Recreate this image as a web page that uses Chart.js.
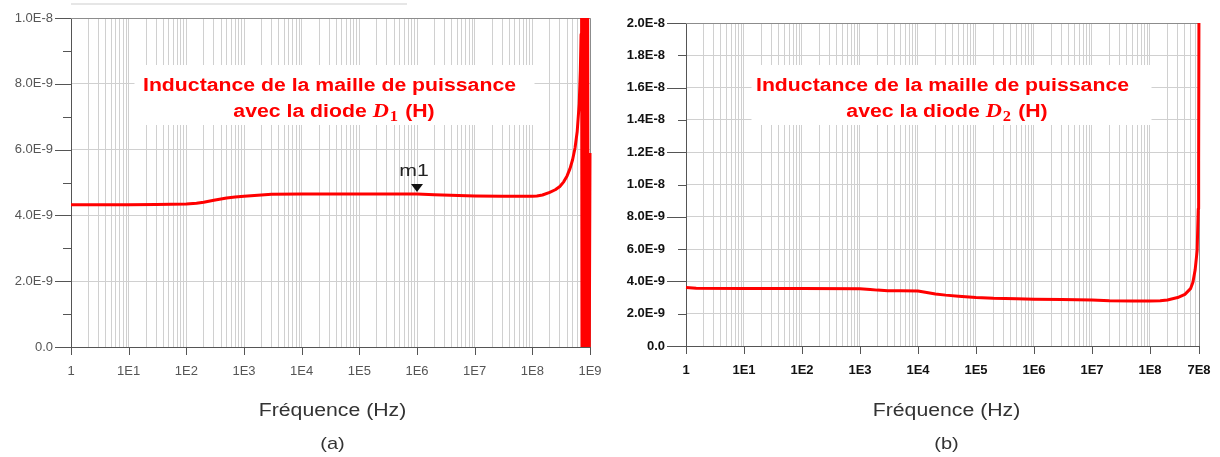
<!DOCTYPE html>
<html>
<head>
<meta charset="utf-8">
<script src="https://cdn.jsdelivr.net/npm/chart.js@4.4.1/dist/chart.umd.min.js"></script>
<style>
  body { margin: 0; background: #fff; }
  #wrap { position: relative; width: 1220px; height: 457px; overflow: hidden; }
  canvas { position: absolute; top: 0; }
  #chart-a { left: 0; }
  #chart-b { left: 610px; }
  .trait { position: absolute; left: 71px; top: 3px; width: 336px; height: 2px; background: #e6e6e6; }
</style>
</head>
<body>
<div id="wrap">
  <div class="trait"></div>
  <canvas id="chart-a" width="610" height="457"></canvas>
  <canvas id="chart-b" width="610" height="457"></canvas>
</div>
<script>
// (a) inductance avec la diode D1 : fréquence (Hz) / inductance (H)
const freqA = [1, 10, 30, 100, 150, 200, 300, 500, 700, 1e3, 2e3, 3e3, 1e4, 1e5, 1e6, 2e6,
  1e7, 3e7, 1e8, 1.2e8, 1.5e8, 2e8, 2.5e8, 3e8, 3.5e8, 4e8, 4.5e8, 5e8, 5.5e8, 6e8, 6.5e8, 6.8e8, 7e8, 7.15e8,
  7.3e8, 7.5e8, 7.7e8, 7.9e8, 8.1e8, 8.3e8, 8.5e8, 8.7e8, 8.9e8, 9.1e8, 9.3e8, 9.7e8, 1e9];
const inductA = [4.32e-9, 4.32e-9, 4.33e-9, 4.35e-9, 4.37e-9, 4.4e-9, 4.46e-9, 4.53e-9, 4.56e-9, 4.58e-9, 4.62e-9, 4.64e-9, 4.65e-9, 4.65e-9, 4.65e-9, 4.63e-9,
  4.59e-9, 4.58e-9, 4.58e-9, 4.59e-9, 4.62e-9, 4.7e-9, 4.78e-9, 4.88e-9, 5.02e-9, 5.2e-9, 5.42e-9, 5.7e-9, 6.05e-9, 6.55e-9, 7.4e-9, 8.4e-9, 9.5e-9, 1.1e-8,
  -3e-9, 1.4e-8, -4e-9, 1.6e-8, -3e-9, 1.3e-8, -2e-9, 1.2e-8, -2e-9, 1.1e-8, -1e-9, -5e-10, 5.9e-9];

// (b) inductance avec la diode D2
const freqB = [1, 1.5, 10, 100, 1e3, 1.5e3, 2e3, 3e3, 5e3, 1e4, 1.5e4, 2e4, 3e4, 5e4, 1e5,
  2e5, 5e5, 1e6, 3e6, 1e7, 2e7, 5e7, 1e8, 1.5e8, 2e8, 3e8, 4e8, 5e8, 5.5e8, 6e8,
  6.5e8, 6.8e8, 6.9e8, 7e8];
const inductB = [3.62e-9, 3.58e-9, 3.56e-9, 3.56e-9, 3.54e-9, 3.5e-9, 3.46e-9, 3.42e-9, 3.42e-9, 3.4e-9, 3.3e-9, 3.22e-9, 3.15e-9, 3.08e-9, 3.0e-9,
  2.95e-9, 2.93e-9, 2.9e-9, 2.88e-9, 2.85e-9, 2.8e-9, 2.78e-9, 2.78e-9, 2.8e-9, 2.85e-9, 3.0e-9, 3.2e-9, 3.55e-9, 3.95e-9, 4.7e-9,
  5.9e-9, 8.5e-9, 1.15e-8, 2.2e-8];

// marqueur m1
const markerFreqA = 1e6;
const markerValA = 4.65e-9;

// graduations
const xTickValsA = [1, 1e1, 1e2, 1e3, 1e4, 1e5, 1e6, 1e7, 1e8, 1e9];
const xTickLabelsA = ['1', '1E1', '1E2', '1E3', '1E4', '1E5', '1E6', '1E7', '1E8', '1E9'];
const xTickValsB = [1, 1e1, 1e2, 1e3, 1e4, 1e5, 1e6, 1e7, 1e8, 7e8];
const xTickLabelsB = ['1', '1E1', '1E2', '1E3', '1E4', '1E5', '1E6', '1E7', '1E8', '7E8'];
const yTickValsA = [0, 1e-9, 2e-9, 3e-9, 4e-9, 5e-9, 6e-9, 7e-9, 8e-9, 9e-9, 1e-8];
const yTickLabelsA = ['0.0', '2.0E-9', '4.0E-9', '6.0E-9', '8.0E-9', '1.0E-8'];
const yTickValsB = [0, 1e-9, 2e-9, 3e-9, 4e-9, 5e-9, 6e-9, 7e-9, 8e-9, 9e-9, 1e-8,
  1.1e-8, 1.2e-8, 1.3e-8, 1.4e-8, 1.5e-8, 1.6e-8, 1.7e-8, 1.8e-8, 1.9e-8, 2e-8];
const yTickLabelsB = ['0.0', '2.0E-9', '4.0E-9', '6.0E-9', '8.0E-9', '1.0E-8',
  '1.2E-8', '1.4E-8', '1.6E-8', '1.8E-8', '2.0E-8'];

const SANS = '"Liberation Sans", Arial, sans-serif';
const SERIF = '"Liberation Serif", "Times New Roman", serif';

// lignes de grille log : 1..9 x 10^n jusqu'à max
function logGrid(max) {
  const out = [];
  for (let d = 0; d <= 9; d++) {
    for (let m = 1; m <= 9; m++) {
      const v = m * Math.pow(10, d);
      if (v <= max * 1.000001) out.push(v);
    }
  }
  return out;
}

function labelFor(v, vals, labels) {
  const i = vals.findIndex(t => Math.abs(t - v) / t < 1e-6);
  return i >= 0 ? labels[i] : '';
}

// pas de marge automatique autour des axes : la zone de tracé reste fixe
function noPad(s) {
  s.paddingLeft = 0;
  s.paddingRight = 0;
  s.paddingTop = 0;
  s.paddingBottom = 0;
}

// texte un peu étiré horizontalement, comme dans la figure
function wide(ctx, text, x, y, sx) {
  ctx.save();
  ctx.translate(x, y);
  ctx.scale(sx, 1);
  ctx.fillText(text, 0, 0);
  ctx.restore();
}

function makeDecor(cfg) {
  return {
    id: 'decor',
    beforeDatasetsDraw(chart) {
      const { ctx, chartArea: a } = chart;
      const cx = (a.left + a.right) / 2;
      ctx.save();
      ctx.strokeStyle = '#8c8c8c';
      ctx.lineWidth = 1;
      ctx.beginPath();
      ctx.moveTo(a.left, a.top + 0.5);
      ctx.lineTo(a.right + 0.5, a.top + 0.5);
      ctx.lineTo(a.right + 0.5, a.bottom);
      ctx.stroke();

      // encadré blanc du titre
      ctx.fillStyle = '#fff';
      ctx.fillRect(cx - 196 + cfg.boxShift, 65, 400, 60);

      ctx.fillStyle = '#ff0000';
      ctx.textBaseline = 'alphabetic';
      ctx.textAlign = 'center';
      ctx.font = 'bold 18px ' + SANS;
      wide(ctx, 'Inductance de la maille de puissance', cx + cfg.t1Shift, 91, 1.18);

      // deuxième ligne : "avec la diode D_n (H)"
      const sx = 1.18;
      ctx.textAlign = 'left';
      const fMain = 'bold 18px ' + SANS;
      const fD = 'italic bold 19px ' + SERIF;
      const fSub = 'bold 14px ' + SERIF;
      ctx.font = fMain;
      const w1 = ctx.measureText('avec la diode ').width;
      const w4 = ctx.measureText(' (H)').width;
      ctx.font = fD;
      const w2 = ctx.measureText('D').width;
      ctx.font = fSub;
      const w3 = ctx.measureText(cfg.sub).width + 1;
      let x = cx + cfg.t2Shift - (w1 + w2 + w3 + w4) * sx / 2;
      ctx.font = fMain; wide(ctx, 'avec la diode ', x, 117, sx); x += w1 * sx;
      ctx.font = fD; wide(ctx, 'D', x, 117, sx); x += w2 * sx + 1;
      ctx.font = fSub; wide(ctx, cfg.sub, x, 121, sx); x += w3 * sx;
      ctx.font = fMain; wide(ctx, ' (H)', x, 117, sx);
      ctx.restore();
    },
    afterDraw(chart) {
      const { ctx, chartArea: a, scales: { x, y } } = chart;
      const cx = (a.left + a.right) / 2;
      ctx.save();
      ctx.strokeStyle = '#555';
      ctx.lineWidth = 1;
      // graduations de l'axe vertical
      y.ticks.forEach((t, i) => {
        const py = Math.round(y.getPixelForValue(t.value)) + 0.5;
        const len = i % 2 === 0 ? cfg.major : cfg.minor;
        ctx.beginPath();
        ctx.moveTo(a.left - len, py);
        ctx.lineTo(a.left, py);
        ctx.stroke();
      });
      // graduations de l'axe horizontal (décades)
      cfg.xTicks.forEach(v => {
        const px = Math.round(x.getPixelForValue(v)) + 0.5;
        ctx.beginPath();
        ctx.moveTo(px, a.bottom);
        ctx.lineTo(px, a.bottom + 8);
        ctx.stroke();
      });

      ctx.fillStyle = '#333';
      ctx.textAlign = 'center';
      ctx.textBaseline = 'alphabetic';
      ctx.font = '18px ' + SANS;
      wide(ctx, 'Fréquence (Hz)', cx + cfg.capShift, 416, 1.18);
      ctx.font = '17px ' + SANS;
      wide(ctx, cfg.caption, cx + cfg.capShift, 449, 1.18);

      if (cfg.marker) {
        const mx = x.getPixelForValue(cfg.marker.f);
        const my = y.getPixelForValue(cfg.marker.v);
        ctx.fillStyle = '#111';
        ctx.beginPath();
        ctx.moveTo(mx - 6, my - 10);
        ctx.lineTo(mx + 6, my - 10);
        ctx.lineTo(mx, my - 2);
        ctx.closePath();
        ctx.fill();
        ctx.fillStyle = '#222';
        ctx.font = '17px ' + SANS;
        wide(ctx, 'm1', mx - 3, my - 18, 1.25);
      }
      ctx.restore();
    }
  };
}

function makeChart(el, o) {
  const pts = o.freq.map((f, i) => ({ x: f, y: o.vals[i] }));
  const grid = logGrid(o.xMax);
  const tickFont = { family: SANS, size: 13, weight: o.bold ? 'bold' : 'normal' };
  return new Chart(el, {
    type: 'line',
    data: {
      datasets: [{
        data: pts,
        borderColor: '#ff0000',
        borderWidth: 3,
        borderJoinStyle: 'round',
        pointRadius: 0,
        tension: 0,
        fill: false,
        clip: { left: 2, right: 3, top: 0, bottom: 0 }
      }]
    },
    options: {
      responsive: false,
      animation: false,
      layout: { padding: { left: 0, right: o.padRight, top: o.padTop, bottom: 0 } },
      plugins: { legend: { display: false }, tooltip: { enabled: false } },
      scales: {
        x: {
          type: 'logarithmic',
          min: 1,
          max: o.xMax,
          afterBuildTicks: s => { s.ticks = grid.map(v => ({ value: v })); },
          afterFit: s => { s.height = o.xHeight; noPad(s); },
          grid: { color: '#d0d0d0', lineWidth: 1, drawTicks: false },
          border: { display: true, color: '#555', width: 1 },
          ticks: {
            autoSkip: false,
            maxRotation: 0,
            padding: 17,
            color: o.labelColor,
            font: tickFont,
            callback: v => labelFor(v, o.xTickVals, o.xTickLabels)
          }
        },
        y: {
          min: 0,
          max: o.yMax,
          afterBuildTicks: s => { s.ticks = o.yTickVals.map(v => ({ value: v })); },
          afterFit: s => { s.width = o.yWidth; noPad(s); },
          grid: {
            drawTicks: false,
            lineWidth: 1,
            color: c => (c.index % 2 === 0 ? '#d0d0d0' : 'rgba(0,0,0,0)')
          },
          border: { display: true, color: '#555', width: 1 },
          ticks: {
            padding: o.yPad,
            color: o.labelColor,
            font: tickFont,
            callback: (v, i) => (i % 2 === 0 ? o.yTickLabels[i / 2] : '')
          }
        }
      }
    },
    plugins: [makeDecor(o.decor)]
  });
}

makeChart(document.getElementById('chart-a'), {
  freq: freqA, vals: inductA, xMax: 1e9, yMax: 1e-8,
  xTickVals: xTickValsA, xTickLabels: xTickLabelsA,
  yTickVals: yTickValsA, yTickLabels: yTickLabelsA,
  bold: false, labelColor: '#555',
  padRight: 20, padTop: 18, yWidth: 71, xHeight: 110, yPad: 18,
  decor: {
    sub: '1', caption: '(a)', xTicks: xTickValsA, major: 16, minor: 8,
    boxShift: 0, t1Shift: -1, t2Shift: 3, capShift: 2,
    marker: { f: markerFreqA, v: markerValA }
  }
});

makeChart(document.getElementById('chart-b'), {
  freq: freqB, vals: inductB, xMax: 7e8, yMax: 2e-8,
  xTickVals: xTickValsB, xTickLabels: xTickLabelsB,
  yTickVals: yTickValsB, yTickLabels: yTickLabelsB,
  bold: true, labelColor: '#111',
  padRight: 21, padTop: 23, yWidth: 76, xHeight: 111, yPad: 21,
  decor: {
    sub: '2', caption: '(b)', xTicks: xTickValsB, major: 19, minor: 8,
    boxShift: 5, t1Shift: 0, t2Shift: 4, capShift: 4,
    marker: null
  }
});
</script>
</body>
</html>
